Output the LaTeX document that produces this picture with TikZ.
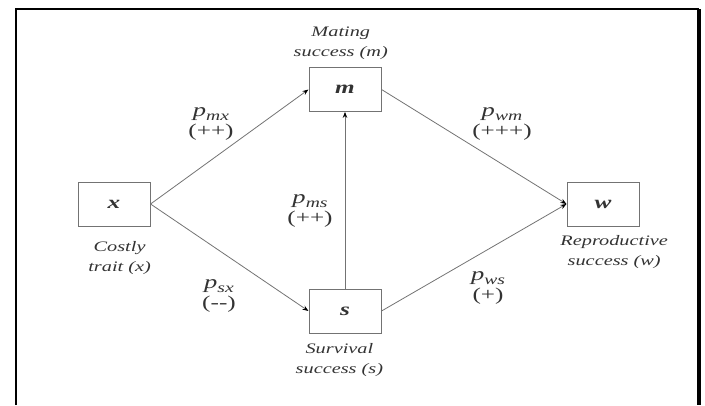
\documentclass[tikz,border=0pt]{standalone}
\usepackage{fontspec}
\setmainfont{Liberation Serif}
\usepackage{tikz}
\usetikzlibrary{positioning, arrows.meta}
\definecolor{linegray}{gray}{0.45}
\definecolor{inkgray}{gray}{0.2}
\tikzstyle{wide} = [xscale=1.4, transform shape]
\tikzstyle{var} = [rectangle, minimum width=51.4pt, minimum height=44pt, draw=linegray, line width=0.8pt, text=inkgray, font=\fontsize{18}{18}\selectfont\bfseries\itshape, wide]
\tikzstyle{caption} = [align=center, inner sep=0pt, text=inkgray, font=\fontsize{14.5}{20}\selectfont\itshape, wide]
\tikzstyle{coef} = [align=center, inner sep=0pt, text=inkgray, font=\fontsize{18}{20}\selectfont, wide]
\tikzstyle{arrow} = [draw=linegray, line width=0.8pt, -{Stealth[length=6pt,width=4.5pt,color=black]}]
\newcommand{\pcoef}[2]{{\fontsize{19}{20}\selectfont\itshape p}\raisebox{-4pt}{\fontsize{14}{14}\selectfont\itshape #1}\\#2}

\begin{document}
\begin{tikzpicture}[x=1pt, y=-1pt]
    \useasboundingbox (0,0) rectangle (705,405);
    % frame (cut off at the bottom)
    \draw[line width=1.5pt] (16,405) |- (698,9) -- (698,405);
    \draw[line width=3pt] (699.5,9) -- (699.5,405);

    \node (x) [var] at (114,204) {x};
    \node (m) [var] at (345,89.5) {m};
    \node (s) [var] at (345,311) {s};
    \node (w) [var] at (603,204) {w};

    \node (xcap) [caption, below=15pt of x, xshift=4pt] {Costly\\trait (x)};
    \node (mcap) [caption, above=7pt of m, xshift=-3pt] {Mating\\success (m)};
    \node (scap) [caption, below=10pt of s, xshift=-4pt] {Survival\\success (s)};
    \node (wcap) [caption, below=9pt of w, xshift=8pt] {Reproductive\\success (w)};

    \node (pmx) [coef] at (211,124) {\pcoef{mx}{(++)}};
    \node (pms) [coef] at (310,211) {\pcoef{ms}{(++)}};
    \node (psx) [coef] at (219,296) {\pcoef{sx}{(-{}-)}};
    \node (pwm) [coef] at (502,124) {\pcoef{wm}{(+++)}};
    \node (pws) [coef] at (488,288) {\pcoef{ws}{(+)}};

    \draw [arrow] (x.east) -- (m.west);
    \draw [arrow] (x.east) -- (s.west);
    \draw [arrow] (s.north) -- (m.south);
    \draw [arrow] (m.east) -- (w.west);
    \draw [arrow] (s.east) -- (w.west);
\end{tikzpicture}
\end{document}
